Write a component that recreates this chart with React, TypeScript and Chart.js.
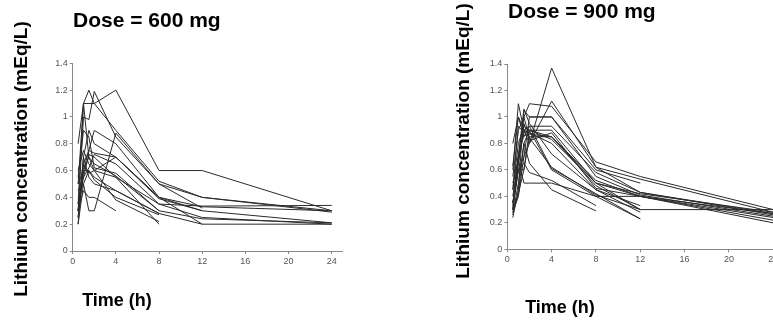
import React, { useEffect, useRef } from "react";
import { Chart, registerables } from "chart.js";

Chart.register(...registerables);

// Sampling times (h)
const TIMES_600 = [0.5, 1, 1.5, 2, 4, 8, 12, 24];
const TIMES_900 = [0.5, 1, 1.5, 2, 4, 8, 12, 24];

// Dose = 600 mg, one array per subject (mEq/L), null = not sampled
const S600_01 = [0.35, 1.1, 1.1, 1.1, 1.2, 0.6, 0.6, 0.3];
const S600_02 = [0.5, 1.1, 1.2, 1.1, 0.9, 0.52, 0.4, 0.3];
const S600_03 = [0.3, 1.0, 0.98, 1.19, 0.85, 0.5, 0.4, 0.29];
const S600_04 = [0.8, 1.1, 0.7, 0.6, 0.55, 0.35, 0.335, 0.34];
const S600_05 = [0.2, 0.7, 0.9, 0.8, 0.7, 0.4, 0.33, 0.3];
const S600_06 = [0.5, 0.6, 0.75, 0.73, 0.7, 0.39, 0.3, 0.21];
const S600_07 = [0.35, 0.65, 0.75, 0.9, 0.8, 0.4, 0.2, 0.2];
const S600_08 = [0.3, 0.55, 0.62, 0.72, 0.65, 0.35, 0.25, 0.2];
const S600_09 = [0.25, 0.6, 0.7, 0.65, 0.56, 0.3, 0.24, 0.21];
const S600_10 = [0.4, 0.5, 0.6, 0.55, 0.45, 0.28, 0.2, null];
const S600_11 = [0.3, 0.6, 0.6, 0.53, 0.4, 0.27, null, null];
const S600_12 = [0.45, 0.55, 0.72, 0.7, 0.55, 0.2, null, null];
const S600_13 = [0.3, 0.45, 0.4, 0.4, 0.3, null, null, null];
const S600_14 = [0.2, 0.5, 0.3, 0.3, 0.88, 0.5, 0.32, null];
const S600_15 = [0.25, 0.65, 0.58, 0.6, 0.7, 0.4, 0.3, null];
const S600_16 = [0.55, 0.9, 0.85, 0.62, 0.58, 0.3, null, null];
const S600_17 = [0.3, 0.7, 0.55, 0.5, 0.45, 0.28, null, null];
const S600_18 = [0.6, 0.75, 0.65, 0.6, 0.38, 0.22, null, null];

// Dose = 900 mg
const S900_01 = [0.3, 0.6, 0.7, 0.8, 1.37, 0.62, 0.43, 0.27];
const S900_02 = [0.35, 0.7, 1.0, 1.1, 1.08, 0.66, 0.55, 0.3];
const S900_03 = [0.6, 1.1, 0.9, 0.8, 1.12, 0.62, 0.53, 0.28];
const S900_04 = [0.24, 0.45, 1.05, 1.0, 1.0, 0.6, 0.5, null];
const S900_05 = [0.8, 1.0, 0.85, 0.93, 0.93, 0.58, 0.43, 0.26];
const S900_06 = [0.28, 0.4, 0.7, 1.0, 1.0, 0.55, 0.41, 0.25];
const S900_07 = [0.45, 0.93, 0.88, 0.9, 0.85, 0.52, 0.4, 0.24];
const S900_08 = [0.3, 0.42, 0.6, 0.9, 0.83, 0.5, 0.4, 0.22];
const S900_09 = [0.63, 1.0, 0.9, 0.88, 0.8, 0.45, 0.33, null];
const S900_10 = [0.35, 0.6, 0.6, 0.85, 0.85, 0.48, 0.3, null];
const S900_11 = [0.4, 0.7, 1.06, 0.95, 0.72, 0.45, 0.28, null];
const S900_12 = [0.3, 0.65, 0.9, 0.93, 0.61, 0.42, 0.23, null];
const S900_13 = [0.5, 0.68, 0.5, 0.5, 0.5, 0.4, 0.4, 0.2];
const S900_14 = [0.28, 0.42, 0.8, 0.65, 0.45, 0.29, null, null];
const S900_15 = [0.35, 0.6, 0.65, 0.58, 0.52, 0.33, null, null];
const S900_16 = [0.26, 0.5, 0.8, 0.9, 0.6, 0.4, 0.23, null];
const S900_17 = [0.45, 0.8, 0.93, 0.9, 0.9, 0.5, 0.3, 0.3];
const S900_18 = [0.3, 0.65, 0.95, 0.82, 0.88, 0.46, 0.4, 0.27];
const S900_19 = [0.55, 0.9, 1.0, 0.84, 0.62, 0.41, 0.3, null];
const S900_20 = [0.33, 0.72, 0.86, 0.87, 0.85, 0.5, 0.42, 0.28];

const SUBJECTS_600 = [
  S600_01, S600_02, S600_03, S600_04, S600_05, S600_06, S600_07, S600_08, S600_09,
  S600_10, S600_11, S600_12, S600_13, S600_14, S600_15, S600_16, S600_17, S600_18,
];
const SUBJECTS_900 = [
  S900_01, S900_02, S900_03, S900_04, S900_05, S900_06, S900_07, S900_08, S900_09, S900_10,
  S900_11, S900_12, S900_13, S900_14, S900_15, S900_16, S900_17, S900_18, S900_19, S900_20,
];

const Y_TICKS = [0, 0.2, 0.4, 0.6, 0.8, 1, 1.2, 1.4];
const Y_TICK_LABELS = ["0", "0.2", "0.4", "0.6", "0.8", "1", "1.2", "1.4"];
const X_TICKS = [0, 4, 8, 12, 16, 20, 24];
const X_TICK_LABELS = ["0", "4", "8", "12", "16", "20", "24"];

const TITLE_600 = "Dose = 600 mg";
const TITLE_900 = "Dose = 900 mg";
const Y_TITLE = "Lithium concentration (mEq/L)";
const X_TITLE = "Time (h)";

type PanelCfg = {
  times: number[];
  subjects: (number | null)[][];
  title: string;
  titleX: number;
  titleY: number;
  yTitleX: number;
  yTitleY: number;
  xTitleX: number;
  xTitleY: number;
  padTop: number;
  padRight: number;
  yWidth: number;
  xHeight: number;
};

function Panel({ cfg, style }: { cfg: PanelCfg; style: React.CSSProperties }) {
  const ref = useRef<HTMLCanvasElement | null>(null);
  useEffect(() => {
    if (!ref.current) return;
    const textPlugin = {
      id: "texts",
      afterDraw(chart: any) {
        const ctx = chart.ctx;
        ctx.save();
        ctx.fillStyle = "#000";
        ctx.font = "bold 21px 'Liberation Sans', Arial, sans-serif";
        ctx.textAlign = "left";
        ctx.textBaseline = "alphabetic";
        ctx.fillText(cfg.title, cfg.titleX, cfg.titleY);
        ctx.font = "bold 18px 'Liberation Sans', Arial, sans-serif";
        ctx.textAlign = "center";
        ctx.fillText(X_TITLE, cfg.xTitleX, cfg.xTitleY);
        ctx.translate(cfg.yTitleX, cfg.yTitleY);
        ctx.rotate(-Math.PI / 2);
        ctx.font = "bold 19px 'Liberation Sans', Arial, sans-serif";
        ctx.textBaseline = "middle";
        ctx.fillText(Y_TITLE, 0, 0);
        ctx.restore();
      },
    };
    const datasets = cfg.subjects.map((vals) => ({
      data: cfg.times
        .map((t, i) => ({ x: t, y: vals[i] }))
        .filter((p) => p.y !== null && p.y !== undefined),
      showLine: true,
      borderColor: "#2a2a2a",
      borderWidth: 1,
      pointRadius: 0,
      tension: 0,
      fill: false,
    }));
    const tickFont = { family: "'Liberation Sans', Arial, sans-serif", size: 9 };
    const chart = new Chart(ref.current, {
      type: "scatter",
      data: { datasets },
      options: {
        animation: false,
        responsive: false,
        maintainAspectRatio: false,
        events: [],
        layout: { padding: { top: cfg.padTop, right: cfg.padRight, left: 0, bottom: 0 } },
        plugins: { legend: { display: false }, tooltip: { enabled: false }, title: { display: false } },
        scales: {
          x: {
            type: "linear",
            min: 0,
            max: 25,
            afterBuildTicks: (scale: any) => {
              scale.ticks = X_TICKS.map((v) => ({ value: v }));
            },
            afterFit: (scale: any) => {
              scale.height = cfg.xHeight;
            },
            ticks: {
              color: "#555",
              font: tickFont,
              padding: 2,
              maxRotation: 0,
              callback: (v: any) => {
                const i = X_TICKS.indexOf(Number(v));
                return i >= 0 ? X_TICK_LABELS[i] : "";
              },
            },
            grid: { drawOnChartArea: false, drawTicks: true, tickLength: 3, color: "#888" },
            border: { display: true, color: "#888", width: 1 },
          },
          y: {
            type: "linear",
            min: 0,
            max: 1.4,
            afterBuildTicks: (scale: any) => {
              scale.ticks = Y_TICKS.map((v) => ({ value: v }));
            },
            afterFit: (scale: any) => {
              scale.width = cfg.yWidth;
            },
            ticks: {
              color: "#555",
              font: tickFont,
              padding: 2,
              callback: (v: any) => {
                const i = Y_TICKS.findIndex((t) => Math.abs(t - Number(v)) < 1e-6);
                return i >= 0 ? Y_TICK_LABELS[i] : "";
              },
            },
            grid: { drawOnChartArea: false, drawTicks: true, tickLength: 3, color: "#888" },
            border: { display: true, color: "#888", width: 1 },
          },
        },
      },
      plugins: [textPlugin],
    } as any);
    return () => chart.destroy();
  }, [cfg]);
  return <canvas ref={ref} width={style.width as number} height={324} style={style} />;
}

const LEFT_CFG: PanelCfg = {
  times: TIMES_600,
  subjects: SUBJECTS_600,
  title: TITLE_600,
  titleX: 73,
  titleY: 27,
  yTitleX: 22,
  yTitleY: 159,
  xTitleX: 117,
  xTitleY: 306,
  padTop: 63.3,
  padRight: 390 - 342.5,
  yWidth: 72.7,
  xHeight: 324 - 251,
};

const RIGHT_CFG: PanelCfg = {
  times: TIMES_900,
  subjects: SUBJECTS_900,
  title: TITLE_900,
  titleX: 508 - 390,
  titleY: 18,
  yTitleX: 464 - 390,
  yTitleY: 141,
  xTitleX: 560 - 390,
  xTitleY: 313,
  padTop: 64,
  padRight: 410 - 394.3,
  yWidth: 117.3,
  xHeight: 324 - 249.3,
};

export default function App() {
  return (
    <div
      style={{
        position: "fixed",
        left: 0,
        top: 0,
        width: 773,
        height: 324,
        overflow: "hidden",
        background: "#fff",
      }}
    >
      <Panel cfg={LEFT_CFG} style={{ position: "absolute", left: 0, top: 0, width: 390, height: 324 }} />
      <Panel cfg={RIGHT_CFG} style={{ position: "absolute", left: 390, top: 0, width: 410, height: 324 }} />
    </div>
  );
}
